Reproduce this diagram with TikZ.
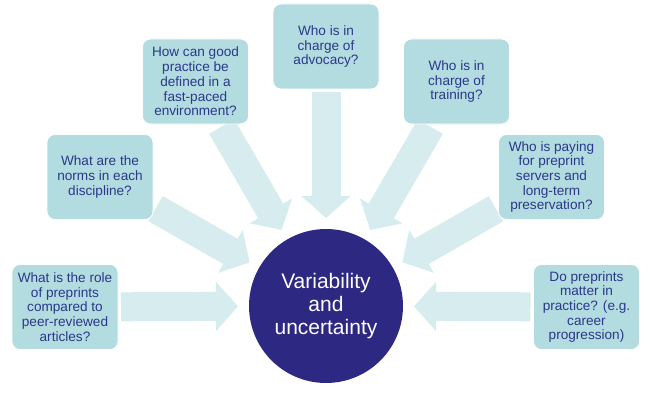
\documentclass[tikz,border=0pt]{standalone}
\usepackage{fontspec}
\setmainfont{Liberation Sans}
\usetikzlibrary{arrows.meta,backgrounds}
\definecolor{boxfill}{RGB}{178,220,224}
\definecolor{txt}{RGB}{44,56,138}
\definecolor{circ}{RGB}{45,40,130}
\definecolor{arr}{RGB}{214,236,238}
\begin{document}
\begin{tikzpicture}[x=1pt,y=-1pt,
  qbox/.style={draw=white, line width=0.8pt, fill=boxfill, rounded corners=8pt,
    minimum width=106pt, minimum height=85pt, align=center, text=txt,
    font=\fontsize{13.6}{14.7}\selectfont, inner sep=0pt, outer sep=0pt},
  hub/.style={circle, fill=circ, minimum size=154pt, inner sep=0pt, outer sep=0pt,
    align=center, text=white, font=\fontsize{21}{23}\selectfont},
  flow/.style={draw=arr, line width=29pt, -{Triangle[width=48pt,length=22pt]},
    shorten <=3pt, shorten >=11pt}]
\useasboundingbox (0,0) rectangle (651,404);
\node[hub] (c) at (326,306) {Variability\\and\\uncertainty};
\node[qbox] (b1) at (65,307) {What is the role\\of preprints\\compared to\\peer-reviewed\\articles?};
\node[qbox] (b2) at (100,177) {What are the\\norms in each\\discipline?};
\node[qbox] (b3) at (195.5,81.5) {How can good\\practice be\\defined in a\\fast-paced\\environment?};
\node[qbox] (b4) at (326,46.5) {Who is in\\charge of\\advocacy?};
\node[qbox] (b5) at (456.5,81.5) {Who is in\\charge of\\training?};
\node[qbox] (b6) at (551.5,177) {Who is paying\\for preprint\\servers and\\long-term\\preservation?};
\node[qbox] (b7) at (586.5,307) {Do preprints\\matter in\\practice? (e.g.\\career\\progression)};
\begin{scope}[on background layer]
\fill[white] (0,0) rectangle (651,404);
\foreach \b in {b1,b2,b3,b4,b5,b6,b7}
  \draw[flow] (\b) -- (c);
\end{scope}
\end{tikzpicture}
\end{document}
